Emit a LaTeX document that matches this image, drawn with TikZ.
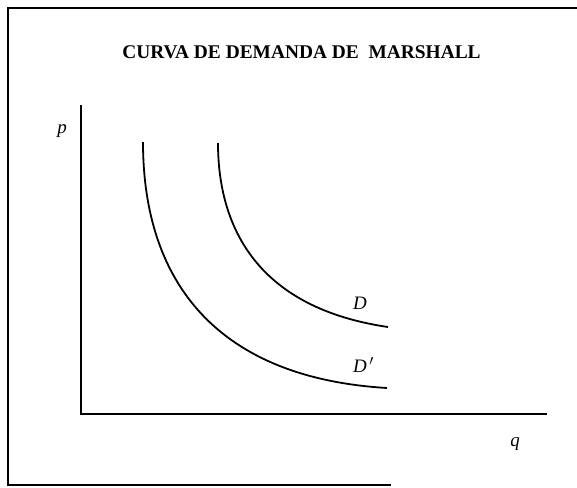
\documentclass[tikz,border=0pt]{standalone}
\usepackage{fontspec}
\setmainfont{Liberation Serif}
\begin{document}
\begin{tikzpicture}[x=1pt,y=-1pt,
  frame/.style={line width=1.9pt,black},
  axis/.style={line width=2.2pt,black},
  curve/.style={line width=1.8pt,black},
  lbl/.style={font=\fontsize{19}{19}\selectfont\itshape,inner sep=0pt},
  ttl/.style={font=\fontsize{19.4}{19.4}\selectfont\bfseries,inner sep=0pt}]
\useasboundingbox (0,0) rectangle (577,487);
% frame
\coordinate (fbl) at (391,485);
\coordinate (flb) at (8,485);
\coordinate (flt) at (8,8);
\coordinate (frt) at (577,8);
\draw[frame] (fbl) -- (flb) -- (flt) -- (frt);
% title
\node[ttl,anchor=base] (title) at (301.5,58) {CURVA DE DEMANDA DE\ \ MARSHALL};
% axes
\coordinate (ytop) at (81,105);
\coordinate (orig) at (81,414);
\coordinate (xend) at (547,414);
\draw[axis] (ytop) -- (orig) -- (xend);
\node[lbl] (p) at (62,131) {p};
\node[lbl] (q) at (515,444) {q};
% curves
\coordinate (d2s) at (143,142);
\coordinate (d2e) at (387,388);
\draw[curve] (d2s) .. controls (143,285) and (220,378) .. (d2e);
\coordinate (d1s) at (218,143);
\coordinate (d1e) at (388,327);
\draw[curve] (d1s) .. controls (218,228) and (258,308) .. (d1e);
\node[lbl] (D) at (360,303) {D};
\node[lbl,anchor=west] (Dp) at (353,365) {D$^{\,\prime}$};
\end{tikzpicture}
\end{document}
